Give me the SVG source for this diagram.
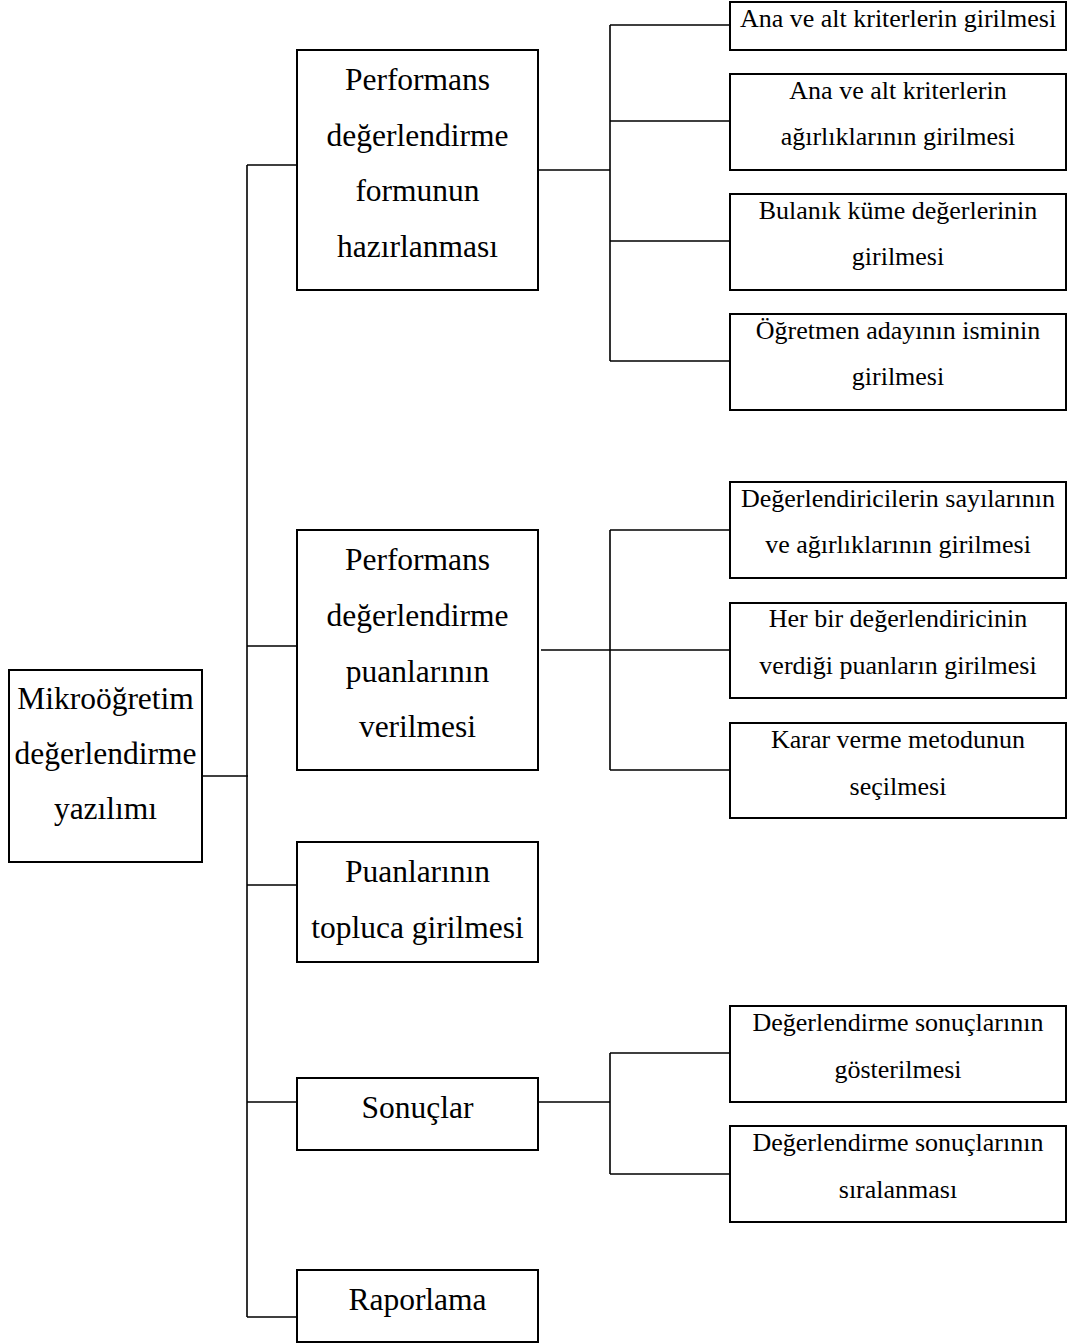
<svg xmlns="http://www.w3.org/2000/svg" width="1068" height="1344" viewBox="0 0 1068 1344">
<style>
rect.box{fill:#fff;stroke:#000;stroke-width:2}
.conn path{fill:none;stroke:#000;stroke-width:1.6}
text{font-family:"Liberation Serif","Times New Roman",serif;fill:#000;text-anchor:middle}
.big{font-size:31.5px}
.small{font-size:26px}
</style>
<rect width="1068" height="1344" fill="#fff"/>
<g class="conn">
<path d="M202 776H248"/>
<path d="M247 165V1317"/>
<path d="M247 165H297M247 646H297M247 885H297M247 1102H297M247 1317H297"/>
<path d="M538 170H610M610 25V361M610 25H730M610 121H730M610 241H730M610 361H730"/>
<path d="M541 650H610M610 530V770M610 530H730M610 650H730M610 770H730"/>
<path d="M538 1102H610M610 1053V1174M610 1053H730M610 1174H730"/>
</g>
<g id="root"><rect class="box" x="9" y="670" width="193" height="192"/>
<text class="big" x="105.5" y="709">Mikroöğretim</text>
<text class="big" x="105.5" y="764">değerlendirme</text>
<text class="big" x="105.5" y="819">yazılımı</text></g>
<g id="form"><rect class="box" x="297" y="50" width="241" height="240"/>
<text class="big" x="417.5" y="90">Performans</text>
<text class="big" x="417.5" y="146">değerlendirme</text>
<text class="big" x="417.5" y="201">formunun</text>
<text class="big" x="417.5" y="257">hazırlanması</text></g>
<g id="puan"><rect class="box" x="297" y="530" width="241" height="240"/>
<text class="big" x="417.5" y="570">Performans</text>
<text class="big" x="417.5" y="626">değerlendirme</text>
<text class="big" x="417.5" y="682">puanlarının</text>
<text class="big" x="417.5" y="737">verilmesi</text></g>
<g id="toplu"><rect class="box" x="297" y="842" width="241" height="120"/>
<text class="big" x="417.5" y="882">Puanlarının</text>
<text class="big" x="417.5" y="938">topluca girilmesi</text></g>
<g id="sonuc"><rect class="box" x="297" y="1078" width="241" height="72"/>
<text class="big" x="417.5" y="1118">Sonuçlar</text></g>
<g id="rapor"><rect class="box" x="297" y="1270" width="241" height="72"/>
<text class="big" x="417.5" y="1310">Raporlama</text></g>
<g id="c1"><rect class="box" x="730" y="2" width="336" height="48"/>
<text class="small" x="898" y="27">Ana ve alt kriterlerin girilmesi</text></g>
<g id="c2"><rect class="box" x="730" y="74" width="336" height="96"/>
<text class="small" x="898" y="99">Ana ve alt kriterlerin</text>
<text class="small" x="898" y="145">ağırlıklarının girilmesi</text></g>
<g id="c3"><rect class="box" x="730" y="194" width="336" height="96"/>
<text class="small" x="898" y="219">Bulanık küme değerlerinin</text>
<text class="small" x="898" y="265">girilmesi</text></g>
<g id="c4"><rect class="box" x="730" y="314" width="336" height="96"/>
<text class="small" x="898" y="339">Öğretmen adayının isminin</text>
<text class="small" x="898" y="385">girilmesi</text></g>
<g id="d1"><rect class="box" x="730" y="482" width="336" height="96"/>
<text class="small" x="898" y="507">Değerlendiricilerin sayılarının</text>
<text class="small" x="898" y="553">ve ağırlıklarının girilmesi</text></g>
<g id="d2"><rect class="box" x="730" y="603" width="336" height="95"/>
<text class="small" x="898" y="627">Her bir değerlendiricinin</text>
<text class="small" x="898" y="674">verdiği puanların girilmesi</text></g>
<g id="d3"><rect class="box" x="730" y="723" width="336" height="95"/>
<text class="small" x="898" y="748">Karar verme metodunun</text>
<text class="small" x="898" y="795">seçilmesi</text></g>
<g id="e1"><rect class="box" x="730" y="1006" width="336" height="96"/>
<text class="small" x="898" y="1031">Değerlendirme sonuçlarının</text>
<text class="small" x="898" y="1078">gösterilmesi</text></g>
<g id="e2"><rect class="box" x="730" y="1126" width="336" height="96"/>
<text class="small" x="898" y="1151">Değerlendirme sonuçlarının</text>
<text class="small" x="898" y="1198">sıralanması</text></g>
</svg>
